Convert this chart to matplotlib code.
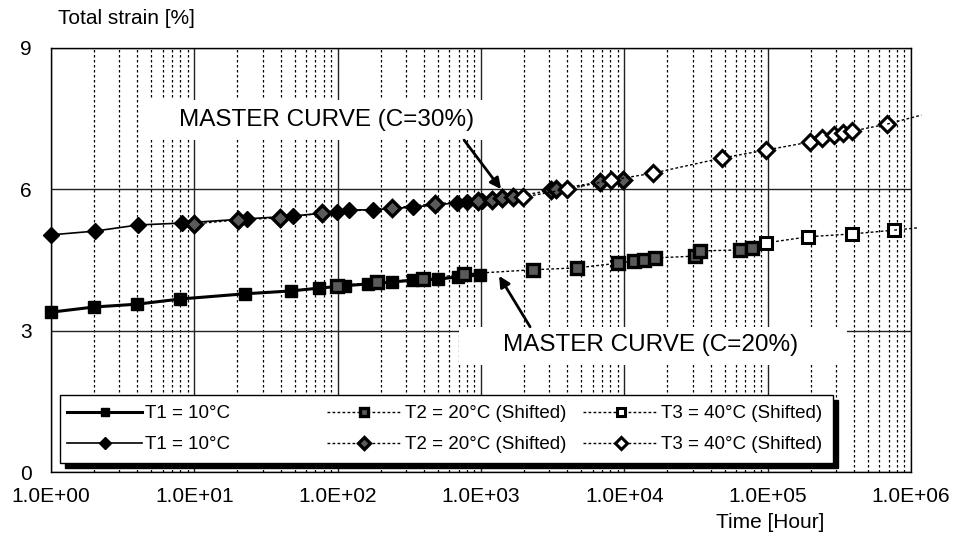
import numpy as np
import matplotlib
matplotlib.use('Agg')
import matplotlib.pyplot as plt
from matplotlib.patches import Rectangle
from matplotlib.ticker import LogLocator, NullFormatter

plt.rcParams['font.family'] = ['Liberation Sans', 'DejaVu Sans']

# creep test data, C=20% (squares)
t1_sq_t = [1, 2, 4, 8, 22.6, 47, 74, 113, 163, 240, 336, 502, 692, 986]
t1_sq_v = [3.39, 3.50, 3.56, 3.67, 3.78, 3.84, 3.90, 3.95, 3.99, 4.03, 4.07, 4.09, 4.14, 4.18]
t2_sq_t = [99, 188, 394, 762, 2310, 4690, 9050, 11700, 13700, 16400, 31200, 33800, 64300, 78000]
t2_sq_v = [3.95, 4.03, 4.09, 4.20, 4.29, 4.33, 4.43, 4.48, 4.50, 4.54, 4.58, 4.69, 4.71, 4.75]
t3_sq_t = [97700, 192000, 389000, 764000]
t3_sq_v = [4.86, 4.99, 5.05, 5.13]
sq_ext_t = [764000, 1.12e6]
sq_ext_v = [5.13, 5.18]

# creep test data, C=30% (diamonds)
t1_di_t = [1, 2.03, 4.05, 8.2, 23.3, 48.9, 99, 120, 177, 336, 681, 800, 1018]
t1_di_v = [5.03, 5.11, 5.24, 5.28, 5.37, 5.43, 5.52, 5.56, 5.56, 5.62, 5.71, 5.73, 5.75]
t2_di_t = [9.95, 20.2, 39.6, 77.8, 240, 478, 955, 1195, 1402, 1674, 3085, 3342, 6780, 9810]
t2_di_v = [5.26, 5.35, 5.39, 5.49, 5.60, 5.69, 5.75, 5.77, 5.81, 5.83, 5.98, 6.00, 6.15, 6.19]
t3_di_t = [1967, 3990, 8090, 15900, 48100, 97700, 198000, 240000, 291000, 336000, 389000, 682000]
t3_di_v = [5.83, 6.00, 6.19, 6.34, 6.66, 6.83, 7.00, 7.09, 7.15, 7.19, 7.23, 7.38]
di_ext_t = [682000, 1.18e6]
di_ext_v = [7.38, 7.57]

labels = ['T1 = 10°C', 'T2 = 20°C (Shifted)', 'T3 = 40°C (Shifted)']
xtick_labels = ['1.0E+00', '1.0E+01', '1.0E+02', '1.0E+03', '1.0E+04', '1.0E+05', '1.0E+06']

W, H = 954, 549
fig = plt.figure(figsize=(W / 100, H / 100), dpi=100)
ax = fig.add_axes([51 / W, (H - 472) / H, 860 / W, (472 - 47.7) / H])
ax.set_xscale('log')
ax.set_xlim(1, 1e6)
ax.set_ylim(0, 9)
ax.set_yticks([0, 3, 6, 9])
ax.set_xticks([10.0 ** k for k in range(7)])
ax.set_xticklabels(xtick_labels)
ax.xaxis.set_minor_locator(LogLocator(base=10, subs=np.arange(2, 10), numticks=20))
ax.xaxis.set_minor_formatter(NullFormatter())
ax.tick_params(which='both', length=0)
ax.tick_params(axis='x', pad=11, labelsize=15)
ax.tick_params(axis='y', pad=14, labelsize=15)
for s in ax.spines.values():
    s.set_linewidth(1)
ax.set_axisbelow(True)
ax.grid(True, which='major', color='#222222', lw=1)
ax.grid(True, which='minor', axis='x', color='black', lw=0.9, linestyle=(0, (2, 2)))

dot = (0, (2, 1.6))
kw = dict(clip_on=False, zorder=3)
h1s, = ax.plot(t1_sq_t, t1_sq_v, '-s', color='black', lw=2.2, ms=9, mfc='black', mec='black', **kw)
h2s, = ax.plot(t2_sq_t, t2_sq_v, 's', linestyle=dot, color='black', lw=1, ms=9, mfc='#5a5a5a', mec='black', mew=2.4, **kw)
h3s, = ax.plot(t3_sq_t, t3_sq_v, 's', linestyle=dot, color='black', lw=1, ms=9, mfc='white', mec='black', mew=2.2, **kw)
ax.plot(sq_ext_t, sq_ext_v, linestyle=dot, color='black', lw=1, **kw)

h1d, = ax.plot(t1_di_t, t1_di_v, '-D', color='black', lw=1.2, ms=8.5, mfc='black', mec='black', **kw)
h2d, = ax.plot(t2_di_t, t2_di_v, 'D', linestyle=dot, color='black', lw=1, ms=8.5, mfc='#5a5a5a', mec='black', mew=2.4, **kw)
h3d, = ax.plot(t3_di_t, t3_di_v, 'D', linestyle=dot, color='black', lw=1, ms=8.5, mfc='white', mec='black', mew=2.2, **kw)
ax.plot(di_ext_t, di_ext_v, linestyle=dot, color='black', lw=1, **kw)

# white label boxes over the grid
ax.add_patch(Rectangle((4.2, 7.04), 1864 - 4.2, 0.85, facecolor='white', edgecolor='none', zorder=1.5))
ax.add_patch(Rectangle((704, 2.27), 3.6e5 - 704, 0.81, facecolor='white', edgecolor='none', zorder=1.5))
ax.text(83, 7.47, 'MASTER CURVE (C=30%)', ha='center', va='center', fontsize=17.5, zorder=4)
ax.text(15140, 2.69, 'MASTER CURVE (C=20%)', ha='center', va='center', fontsize=17.5, zorder=4)
arrow = dict(arrowstyle='-|>', color='black', lw=2, mutation_scale=16, shrinkA=0, shrinkB=0)
ax.annotate('', xy=(1380, 6.0), xytext=(762, 7.04), arrowprops=arrow, zorder=4)
ax.annotate('', xy=(1337, 4.16), xytext=(2200, 3.08), arrowprops=arrow, zorder=4)

# legend frame with shadow
fig.patches.append(Rectangle((65 / W, 1 - 468 / H), 773 / W, 68 / H, transform=fig.transFigure,
                             facecolor='black', edgecolor='black', zorder=3))
fig.patches.append(Rectangle((60 / W, 1 - 463 / H), 773 / W, 68 / H, transform=fig.transFigure,
                             facecolor='white', edgecolor='black', lw=1, zorder=3.1))
cols = [(67, h1s, h1d), (327, h2s, h2d), (583, h3s, h3d)]
for (xp, hs, hd), lab in zip(cols, labels):
    fig.legend(handles=[hs, hd], labels=[lab, lab], loc='upper left',
               bbox_to_anchor=(xp / W, 1 - 405 / H), frameon=False, borderpad=0,
               borderaxespad=0, handlelength=4, handletextpad=0.15, labelspacing=0.75,
               fontsize=13.5, markerscale=0.7)

fig.text(58 / W, 1 - 18 / H, 'Total strain [%]', fontsize=15, ha='left', va='center')
fig.text(770 / W, 1 - 523 / H, 'Time [Hour]', fontsize=15, ha='center', va='center')

fig.savefig('out.png', dpi=100)
